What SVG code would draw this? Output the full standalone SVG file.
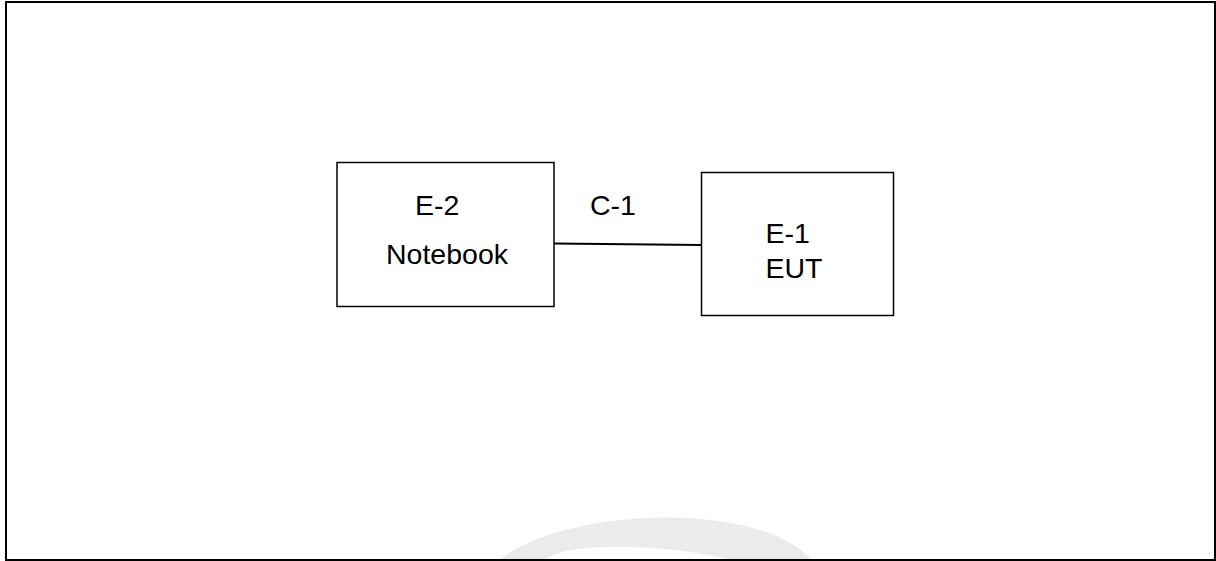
<svg xmlns="http://www.w3.org/2000/svg" width="1216" height="561" viewBox="0 0 1216 561">
<style>
.box{fill:#ffffff;stroke:#000000;stroke-width:1.5}
.lbl{font-family:"Liberation Sans",Arial,sans-serif;font-size:28.5px;fill:#000000}
.conn{stroke:#000000;stroke-width:2;fill:none}
</style>
<rect x="0" y="0" width="1216" height="561" fill="#ffffff"/>
<path id="watermark" d="M 498 561 C 560 508, 760 498, 812 561 L 736 561 C 660 542, 560 542, 545 561 Z" fill="#ebebeb"/>
<rect id="frame" x="6" y="2" width="1209" height="558" fill="none" stroke="#000000" stroke-width="2"/>
<g id="connectors">
<line class="conn" x1="554" y1="243.5" x2="701" y2="245"/>
<text class="lbl" x="590" y="215">C-1</text>
</g>
<g id="node-e2">
<rect class="box" x="337" y="162.5" width="217" height="144"/>
<text class="lbl" x="415" y="215">E-2</text>
<text class="lbl" x="386" y="263.5">Notebook</text>
</g>
<g id="node-e1">
<rect class="box" x="701.5" y="172.5" width="192" height="143"/>
<text class="lbl" x="765.5" y="243.3">E-1</text>
<text class="lbl" x="765.5" y="278.3">EUT</text>
</g>
</svg>
